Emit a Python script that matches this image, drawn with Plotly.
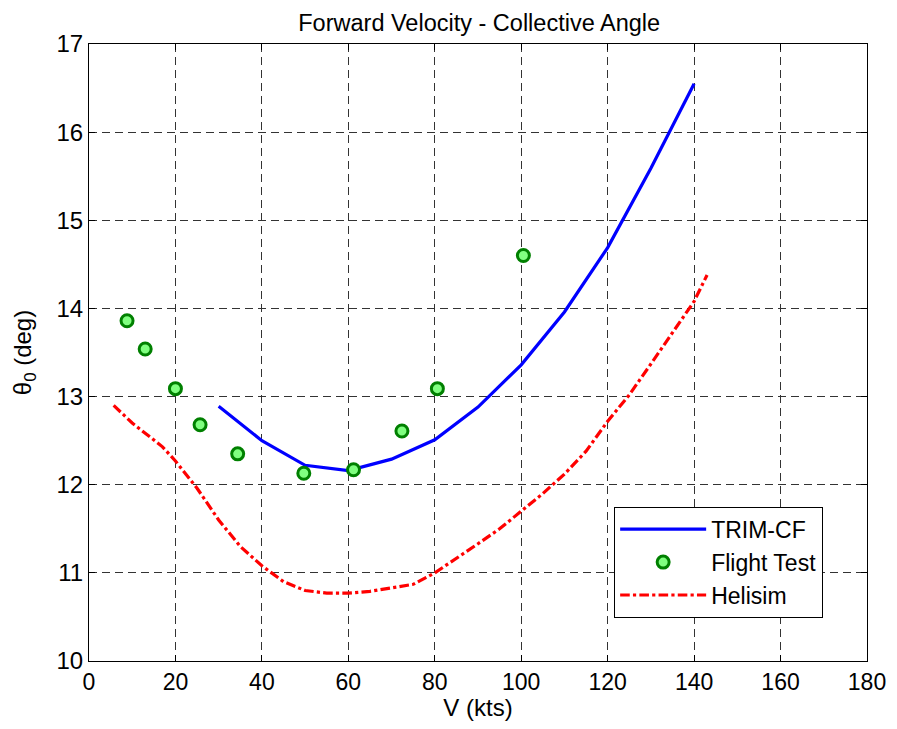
import plotly.graph_objects as go

# TRIM-CF model
trim_v = [30, 40, 50, 60, 70, 80, 90, 100, 110, 120, 130, 140]
trim_theta = [12.89, 12.50, 12.22, 12.16, 12.29, 12.51, 12.88, 13.36, 13.96, 14.69, 15.59, 16.55]

# Flight test data
ft_v = [8.8, 13.0, 20.0, 25.7, 34.4, 49.7, 61.2, 72.4, 80.6, 100.5]
ft_theta = [13.86, 13.54, 13.09, 12.68, 12.35, 12.13, 12.17, 12.61, 13.09, 14.60]

# Helisim model
heli_v = [5.7, 10, 17, 20, 25, 30, 35, 40, 45, 50, 55, 60, 65, 70, 75, 80, 85,
          90, 95, 100, 105, 110, 115, 120, 125, 130, 135, 140, 143]
heli_theta = [12.90, 12.70, 12.43, 12.27, 11.96, 11.60, 11.30, 11.08, 10.90, 10.80,
              10.77, 10.77, 10.79, 10.83, 10.87, 11.00, 11.16, 11.33, 11.50, 11.70,
              11.90, 12.12, 12.38, 12.72, 13.02, 13.37, 13.72, 14.08, 14.38]

x_ticks = [0, 20, 40, 60, 80, 100, 120, 140, 160, 180]
y_ticks = [10, 11, 12, 13, 14, 15, 16, 17]

FONT = "Liberation Sans, Arial, Helvetica, sans-serif"
TICK_SIZE = 24
XTICK_SIZE = 23
LABEL_SIZE = 24
LEGEND_SIZE = 23
TITLE_SIZE = 23.5

fig = go.Figure()
fig.add_trace(go.Scatter(x=trim_v, y=trim_theta, mode="lines", name="TRIM-CF",
                         line=dict(color="#0000FF", width=3.2)))
fig.add_trace(go.Scatter(x=ft_v, y=ft_theta, mode="markers", name="Flight Test",
                         marker=dict(size=12, color="#80FF80",
                                     line=dict(color="#008000", width=3))))
fig.add_trace(go.Scatter(x=heli_v, y=heli_theta, mode="lines", name="Helisim",
                         line=dict(color="#FF0000", width=3.2, dash="dashdot")))

axis_common = dict(
    showline=True, linecolor="black", linewidth=1, mirror="ticks",
    ticks="inside", ticklen=6, tickcolor="black", automargin=False,
    showgrid=True, gridcolor="#333333", gridwidth=1, griddash="8px,5px",
    zeroline=False,
)

fig.update_xaxes(range=[0, 180], tickvals=x_ticks, ticktext=[str(t) for t in x_ticks],
                 tickfont=dict(size=XTICK_SIZE, color="black", family=FONT),
                 title=dict(text="V (kts)", font=dict(size=LABEL_SIZE, color="black", family=FONT),
                            standoff=4),
                 **axis_common)
fig.update_yaxes(range=[10, 17], tickvals=y_ticks, ticktext=[str(t) for t in y_ticks],
                 tickfont=dict(size=TICK_SIZE, color="black", family=FONT),
                 title=dict(text="θ<sub>0</sub> (deg)",
                            font=dict(size=LABEL_SIZE, color="black", family=FONT), standoff=18),
                 **axis_common)

# page body has an 8px margin, so the figure is sized to fit inside 897x729
fig.update_layout(
    width=889, height=713,
    margin=dict(l=81, r=30, t=36, b=60),
    paper_bgcolor="white", plot_bgcolor="white",
    font=dict(family=FONT, color="black"),
    title=dict(text="Forward Velocity - Collective Angle", x=0.530, xanchor="center",
               y=0.968, yanchor="bottom",
               font=dict(size=TITLE_SIZE, color="black", family=FONT)),
    legend=dict(x=0.675, y=0.25, xanchor="left", yanchor="top",
                bgcolor="white", bordercolor="black", borderwidth=1,
                font=dict(size=LEGEND_SIZE, color="black", family=FONT),
                itemwidth=86, tracegroupgap=0),
    showlegend=True,
)

fig.write_html("out.html")
